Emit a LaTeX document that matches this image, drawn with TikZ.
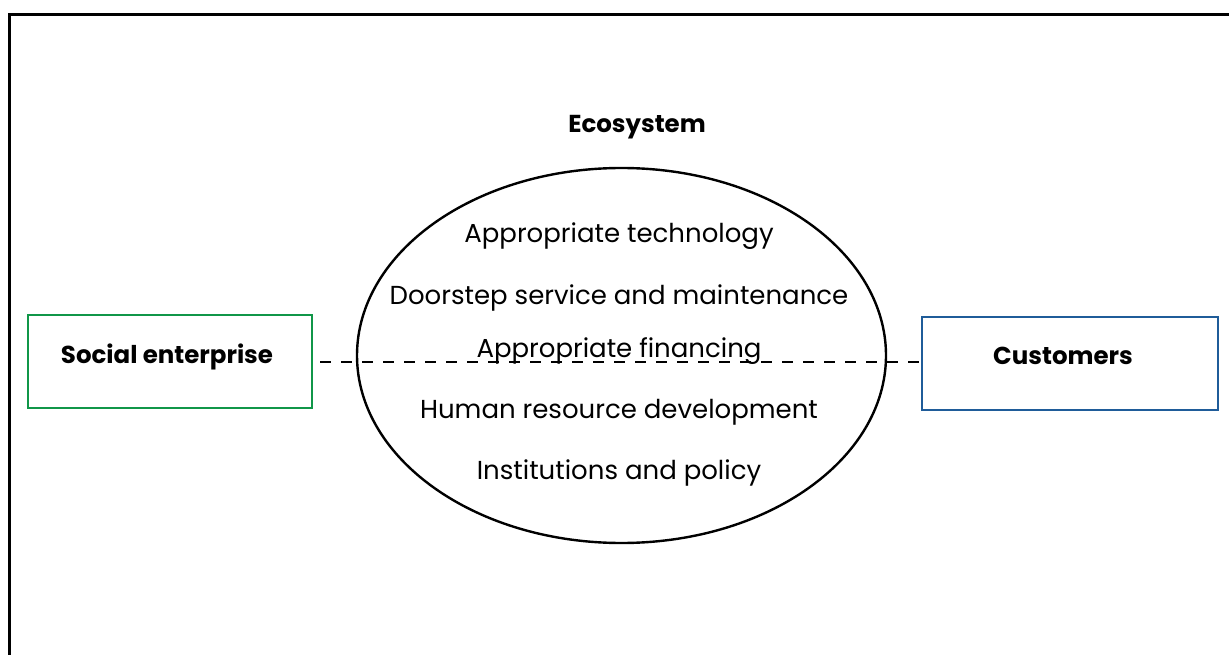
\documentclass[tikz,border=0pt]{standalone}
\usepackage{fontspec}
\setmainfont{Poppins}
\usetikzlibrary{shapes.geometric}
\definecolor{segreen}{RGB}{16,150,72}
\definecolor{cublue}{RGB}{31,92,153}
\begin{document}
\begin{tikzpicture}[x=1pt,y=-1pt,
  bodytext/.style={font=\fontsize{26}{30}\selectfont, inner sep=0pt, anchor=base},
  headtext/.style={font=\fontsize{24.5}{28}\selectfont\bfseries, inner sep=0pt, anchor=base},
  partybox/.style={draw, line width=2.2pt, minimum height=93pt, inner sep=0pt},
  dashline/.style={line width=2.5pt, dash pattern=on 11pt off 10pt}]
\useasboundingbox (0,0) rectangle (1229,655);
\clip (0,0) rectangle (1229,655);
\draw[line width=3pt] (9.5,700) -- (9.5,14.5) -- (1300,14.5);
\node[headtext] (eco) at (637,133) {Ecosystem};
\node[draw, ellipse, line width=2.4pt, minimum width=529pt, minimum height=375pt, inner sep=0pt] (ell) at (621.5,355.5) {};
\node[partybox, draw=segreen, minimum width=284pt] (se) at (170,361.5) {};
\node[headtext] (setext) at (167,363) {Social enterprise};
\node[partybox, draw=cublue, minimum width=296pt] (cu) at (1070,363.5) {};
\node[headtext] (cutext) at (1063,364) {Customers};
\coordinate (dl) at (320,362);
\draw[dashline] (dl) -- (cu.west |- dl);
\node[bodytext] (t1) at (619,243) {Appropriate technology};
\node[bodytext] (t2) at (619,304) {Doorstep service and maintenance};
\node[bodytext] (t3) at (619,357) {Appropriate financing};
\node[bodytext] (t4) at (619,418) {Human resource development};
\node[bodytext] (t5) at (619,479) {Institutions and policy};
\end{tikzpicture}
\end{document}
